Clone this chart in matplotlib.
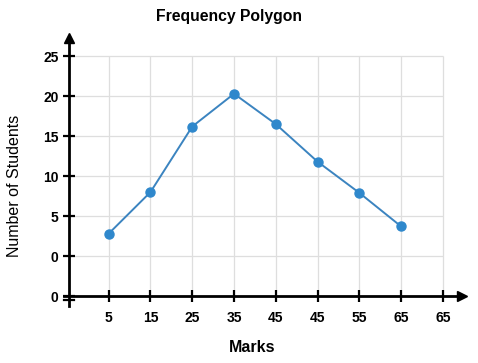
import matplotlib
matplotlib.use("Agg")
import matplotlib.pyplot as plt
import numpy as np

plt.rcParams["font.family"] = ["Liberation Sans", "DejaVu Sans"]

# data
x_labels = ["5", "15", "25", "35", "45", "45", "55", "65", "65"]
students = [2.8, 8.0, 16.2, 20.3, 16.5, 11.8, 7.9, 3.7]
y_ticks = [-5, 0, 5, 10, 15, 20, 25]
y_labels = ["0", "0", "5", "10", "15", "20", "25"]

LINE_COLOR = "#3b84c0"
MARKER_COLOR = "#2f88cc"
GRID_COLOR = "#dedede"

fig = plt.figure(figsize=(4.78, 3.63), dpi=100)
ax = fig.add_axes([69 / 478, 67 / 363, 399 / 478, 263 / 363])
x_left, x_right = -0.95, 8.6
y_bottom, y_top = -5, 27.9
ax.set_xlim(x_left, x_right)
ax.set_ylim(y_bottom, y_top)
for s in ax.spines.values():
    s.set_visible(False)

xpos = np.arange(len(x_labels))

# grid, only over the plotted area
ax.vlines(xpos, y_bottom, 25, color=GRID_COLOR, lw=0.9, zorder=1)
ax.hlines(y_ticks[1:], x_left, xpos[-1], color=GRID_COLOR, lw=0.9, zorder=1)

# axes with arrows and the broken-axis mark
ax.plot([x_left, x_left], [-6.3, 27.0], color="black", lw=2, clip_on=False, zorder=3)
ax.plot([x_left], [27.3], marker="^", color="black", ms=7, clip_on=False, zorder=3)
ax.plot([-1.07, 8.35], [y_bottom, y_bottom], color="black", lw=2, clip_on=False, zorder=3)
ax.plot([8.45], [y_bottom], marker=">", color="black", ms=7, clip_on=False, zorder=3)
ax.plot([-1.07, -0.83], [-5.5, -5.5], color="black", lw=1.6, clip_on=False, zorder=3)

ax.plot(np.arange(len(students)), students, color=LINE_COLOR, lw=1.4,
        marker="o", ms=6.5, mfc=MARKER_COLOR, mec=MARKER_COLOR, zorder=4)

ax.set_xticks(xpos)
ax.set_xticklabels(x_labels, fontsize=10, fontweight="bold")
ax.set_yticks(y_ticks)
ax.set_yticklabels(y_labels, fontsize=10, fontweight="bold")
ax.tick_params(axis="both", direction="inout", length=9, width=1.6, color="black")
ax.tick_params(axis="x", pad=6)
ax.tick_params(axis="y", pad=3)

fig.text(229 / 478, 1 - 16 / 363, "Frequency Polygon", ha="center", va="center",
         fontsize=11.3, fontweight="bold")
fig.text(252 / 478, 1 - 348 / 363, "Marks", ha="center", va="center",
         fontsize=11.5, fontweight="bold")
fig.text(15 / 478, 1 - 186 / 363, "Number of Students", ha="center", va="center",
         rotation=90, fontsize=11.5)

fig.savefig("out.png", dpi=100)
